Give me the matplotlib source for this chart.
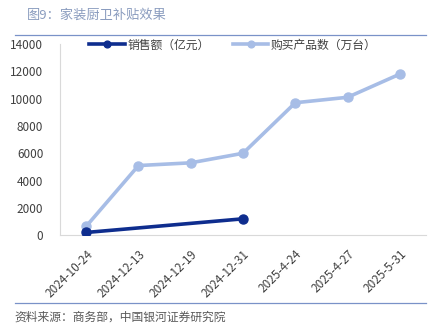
import matplotlib
matplotlib.use('Agg')
import matplotlib.pyplot as plt
import numpy as np

plt.rcParams['font.family'] = ['Noto Sans CJK SC', 'DejaVu Sans']

dates = ['2024-10-24', '2024-12-13', '2024-12-19', '2024-12-31', '2025-4-24', '2025-4-27', '2025-5-31']
sales = [200, np.nan, np.nan, 1200, np.nan, np.nan, np.nan]
units = [650, 5100, 5300, 6000, 9700, 10100, 11800]

dark = '#0e2d8e'
light = '#a7bde6'

fig = plt.figure(figsize=(4.48, 3.36), dpi=100)
ax = fig.add_axes([0.134, 0.30, 0.817, 0.569])

x = np.arange(len(dates))
s = np.array(sales, dtype=float)
ok = ~np.isnan(s)
ax.plot(x, units, color=light, lw=2.6, marker='o', ms=6.5, label='购买产品数（万台）', zorder=2)
ax.plot(x[ok], s[ok], color=dark, lw=2.6, marker='o', ms=6.5, label='销售额（亿元）', zorder=3)

ax.set_xlim(-0.5, len(dates) - 0.5)
ax.set_ylim(0, 14000)
ax.set_yticks(range(0, 14001, 2000))
ax.set_xticks(x)
ax.set_xticklabels(dates, rotation=45, ha='right', rotation_mode='anchor')
ax.tick_params(axis='y', length=0, labelsize=8.5, colors='#404040', pad=12)
ax.tick_params(axis='x', length=0, labelsize=8.5, colors='#404040', pad=9)
for sp in ['top', 'right']:
    ax.spines[sp].set_visible(False)
for sp in ['left', 'bottom']:
    ax.spines[sp].set_color('#d9d9d9')

h, l = ax.get_legend_handles_labels()
fig.legend(h[::-1], l[::-1], loc='center', bbox_to_anchor=(0.52, 0.866), ncol=2, frameon=False,
           fontsize=8.5, handlelength=3.0, columnspacing=2.0, handletextpad=0.2,
           markerscale=0.75, labelcolor='#404040')

fig.text(0.06, 0.955, '图9：家装厨卫补贴效果', fontsize=9.5, color='#8a9cbf', va='center')
fig.add_artist(plt.Line2D([0.033, 0.951], [0.895, 0.895], color='#7a92c8', lw=0.9))
fig.add_artist(plt.Line2D([0.033, 0.951], [0.098, 0.098], color='#7a92c8', lw=0.9))
fig.text(0.033, 0.055, '资料来源：商务部，中国银河证券研究院', fontsize=8.5, color='#595959',
         va='center', style='italic')

fig.savefig('out.png', dpi=100)
